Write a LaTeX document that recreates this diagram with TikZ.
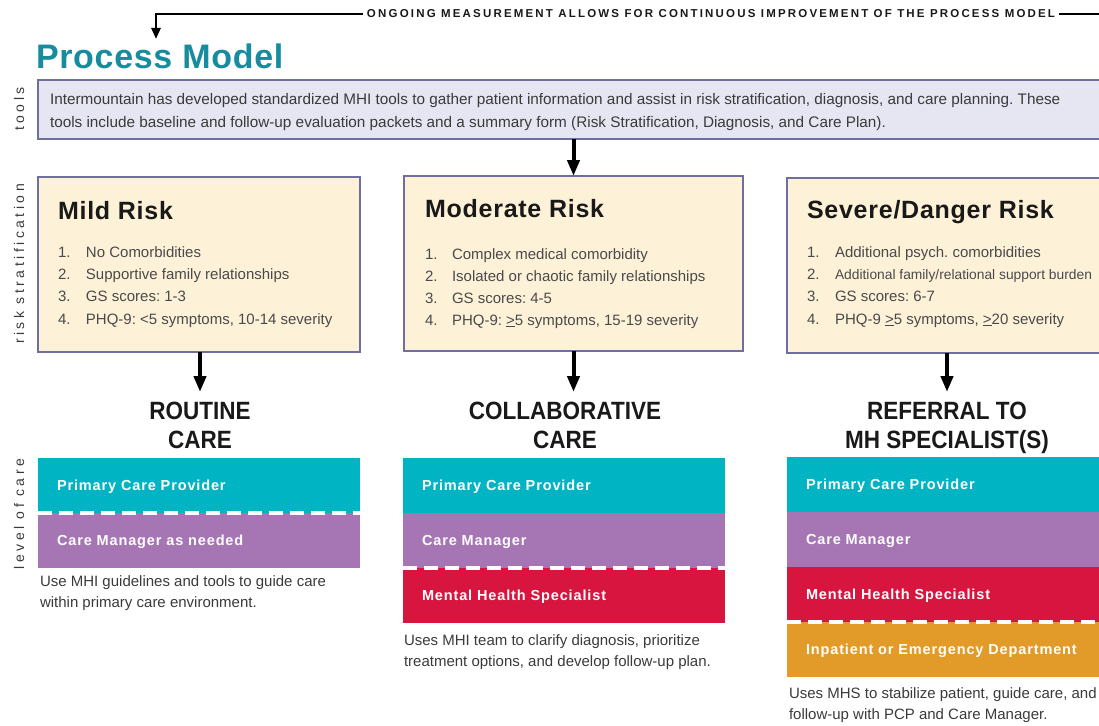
\documentclass[tikz,border=0pt]{standalone}
\usepackage{fontspec}
\setmainfont{Liberation Sans}
\usetikzlibrary{arrows.meta,positioning}

\definecolor{pmteal}{HTML}{178C9E}
\definecolor{toolfill}{HTML}{E6E6F3}
\definecolor{boxline}{HTML}{6E6EA0}
\definecolor{riskfill}{HTML}{FDF1D8}
\definecolor{pcpcol}{HTML}{00B4C4}
\definecolor{cmcol}{HTML}{A676B4}
\definecolor{mhscol}{HTML}{D7153F}
\definecolor{edcol}{HTML}{E29B28}
\definecolor{bodytext}{HTML}{3A3A3A}
\definecolor{itemtext}{HTML}{4A4A4A}

\frenchspacing
\newcommand{\bodyfont}{\fontsize{15}{22}\selectfont}
\newcommand{\toolfont}{\fontsize{15.3}{22.5}\selectfont}
\newcommand{\descfont}{\fontsize{15}{20.5}\selectfont}
\newcommand{\titlefont}{\fontsize{34}{38}\selectfont\bfseries\addfontfeature{LetterSpace=2}}
\newcommand{\riskfont}{\fontsize{25}{30}\selectfont\bfseries\addfontfeature{LetterSpace=3}}
\newcommand{\carefont}{\fontsize{25}{29}\selectfont\bfseries\addfontfeature{FakeStretch=0.9}}
\newcommand{\barfont}{\fontsize{14.5}{17}\selectfont\bfseries\addfontfeature{LetterSpace=6}}
\newcommand{\sidefont}{\fontsize{14}{16}\selectfont\addfontfeature{LetterSpace=25}}
\newcommand{\topfont}{\fontsize{11.5}{13}\selectfont\bfseries\addfontfeature{LetterSpace=19}}

\begin{document}
\begin{tikzpicture}[x=1pt,y=-1pt,node distance=0pt,
    every node/.style={inner sep=0pt,outer sep=0pt}]
  \tikzstyle{toolbox}=[draw=boxline,line width=1.5pt,fill=toolfill,anchor=north west,minimum width=1080pt,minimum height=59pt]
  \tikzstyle{riskbox}=[draw=boxline,line width=1.5pt,fill=riskfill,anchor=north west,minimum height=175pt]
  \tikzstyle{risktitle}=[anchor=base west,font=\riskfont,text=black!90]
  \tikzstyle{riskitem}=[anchor=base west,font=\bodyfont,text=itemtext]
  \tikzstyle{caretitle}=[anchor=north,align=center,font=\carefont,text=black!90]
  \tikzstyle{bar}=[anchor=north west,minimum height=55pt,text width=284pt,inner xsep=19pt,
                   align=left,text height=10.5pt,text depth=0pt,text=white,font=\barfont]
  \tikzstyle{pcpbar}=[bar,fill=pcpcol]
  \tikzstyle{cmbar}=[bar,fill=cmcol]
  \tikzstyle{mhsbar}=[bar,fill=mhscol]
  \tikzstyle{edbar}=[bar,fill=edcol]
  \tikzstyle{sepline}=[white,line width=3.5pt,dash pattern=on 14pt off 7pt]
  \tikzstyle{flowarrow}=[-{Triangle[length=16pt,width=12pt]},line width=4pt]
  \tikzstyle{desc}=[anchor=base west,align=left,font=\descfont,text=bodytext]
  \tikzstyle{sidelabel}=[rotate=90,anchor=base,font=\sidefont,text=bodytext]

  \path[use as bounding box,clip] (0,0) rectangle (1099,725);

  % feedback loop along the top
  \node[font=\topfont,text=black!90,inner xsep=4pt,anchor=base] (ongoing) at (711,18)
    {ONGOING MEASUREMENT ALLOWS FOR CONTINUOUS IMPROVEMENT OF THE PROCESS MODEL};
  \coordinate (fbtip) at (156,39);
  \coordinate (fbend) at (1110,14);
  \draw[-{Triangle[length=11pt,width=9pt]},line width=2.5pt] (ongoing.west) -| (fbtip);
  \draw[line width=2.5pt] (ongoing.east) -- (ongoing.east -| fbend);

  \node[font=\titlefont,text=pmteal,anchor=base west] (title) at (36,68) {Process Model};

  % tools (base of a two-line node = its last line)
  \node[toolbox] (tools) at (38,80) {};
  \node[anchor=base west,align=left,font=\toolfont,text=bodytext] (toolstext) at (50,127)
    {Intermountain has developed standardized MHI tools to gather patient information and assist in risk stratification, diagnosis, and care planning. These\\
     tools include baseline and follow-up evaluation packets and a summary form (Risk Stratification, Diagnosis, and Care Plan).};

  % side labels
  \node[sidelabel] (toolsL) at (24,109) {tools};
  \node[sidelabel] (riskL) at (24,264) {risk stratification};
  \node[sidelabel] (levelL) at (24,514) {level of care};

  % risk stratification
  \node[riskbox,minimum width=322pt] (mild) at (38,177) {};
  \node[riskbox,minimum width=339pt] (moderate) at (404,176) {};
  \node[riskbox,minimum width=345pt] (severe) at (787,178) {};

  \node[risktitle] (mildT) at ([shift={(20,42)}]mild.north west) {Mild Risk};
  \node[risktitle] (moderateT) at ([shift={(21,41)}]moderate.north west) {Moderate Risk};
  \node[risktitle] (severeT) at ([shift={(20,40)}]severe.north west) {Severe/Danger Risk};

  \foreach \n/\t in {1/No Comorbidities,2/Supportive family relationships,3/GS scores: 1-3,
                     4/{PHQ-9: <5 symptoms, 10-14 severity}}
    \node[riskitem] (mild\n) at ([shift={(20,58+22.3*\n)}]mild.north west) {\makebox[28pt][l]{\n.}\t};
  \foreach \n/\t in {1/Complex medical comorbidity,2/Isolated or chaotic family relationships,3/GS scores: 4-5,
                     4/{PHQ-9: \underline{>}5 symptoms, 15-19 severity}}
    \node[riskitem] (moderate\n) at ([shift={(21,61+22*\n)}]moderate.north west) {\makebox[27pt][l]{\n.}\t};
  \foreach \n/\t in {1/Additional psych. comorbidities,
                     2/{{\fontsize{13.8}{22}\selectfont Additional family/relational support burden}},3/GS scores: 6-7,
                     4/{PHQ-9 \underline{>}5 symptoms, \underline{>}20 severity}}
    \node[riskitem] (severe\n) at ([shift={(20,57+22.3*\n)}]severe.north west) {\makebox[28pt][l]{\n.}\t};

  % level of care
  \node[caretitle] (routine) at (200,402) {ROUTINE\\CARE};
  \node[caretitle] (collab) at (565,402) {COLLABORATIVE\\CARE};
  \node[caretitle] (referral) at (947,402) {REFERRAL TO\\MH SPECIALIST(S)};

  \draw[flowarrow] (tools.south -| moderate.north) -- (moderate.north);
  \draw[flowarrow,shorten >=10pt] (mild.south -| routine.north) -- (routine.north);
  \draw[flowarrow,shorten >=10pt] (moderate.south) -- (moderate.south |- collab.north);
  \draw[flowarrow,shorten >=10pt] (severe.south -| referral.north) -- (referral.north);

  \node[pcpbar] (pcpA) at (38,458) {Primary Care Provider};
  \node[cmbar,below=of pcpA] (cmA) {Care Manager as needed};
  \draw[sepline] (pcpA.south west) -- (pcpA.south east);
  \node[desc] (descA) at ([shift={(2,39)}]cmA.south west)
    {Use MHI guidelines and tools to guide care\\within primary care environment.};

  \node[pcpbar] (pcpB) at (403,458) {Primary Care Provider};
  \node[cmbar,below=of pcpB] (cmB) {Care Manager};
  \node[mhsbar,below=of cmB] (mhsB) {Mental Health Specialist};
  \draw[sepline] (cmB.south west) -- (cmB.south east);
  \node[desc] (descB) at ([shift={(1,43)}]mhsB.south west)
    {Uses MHI team to clarify diagnosis, prioritize\\treatment options, and develop follow-up plan.};

  \node[pcpbar] (pcpC) at (787,457) {Primary Care Provider};
  \node[cmbar,below=of pcpC] (cmC) {Care Manager};
  \node[mhsbar,below=of cmC] (mhsC) {Mental Health Specialist};
  \node[edbar,below=of mhsC] (edC) {Inpatient or Emergency Department};
  \draw[sepline] (mhsC.south west) -- (mhsC.south east);
  \node[desc] (descC) at ([shift={(2,42)}]edC.south west)
    {Uses MHS to stabilize patient, guide care, and\\follow-up with PCP and Care Manager.};
\end{tikzpicture}
\end{document}
